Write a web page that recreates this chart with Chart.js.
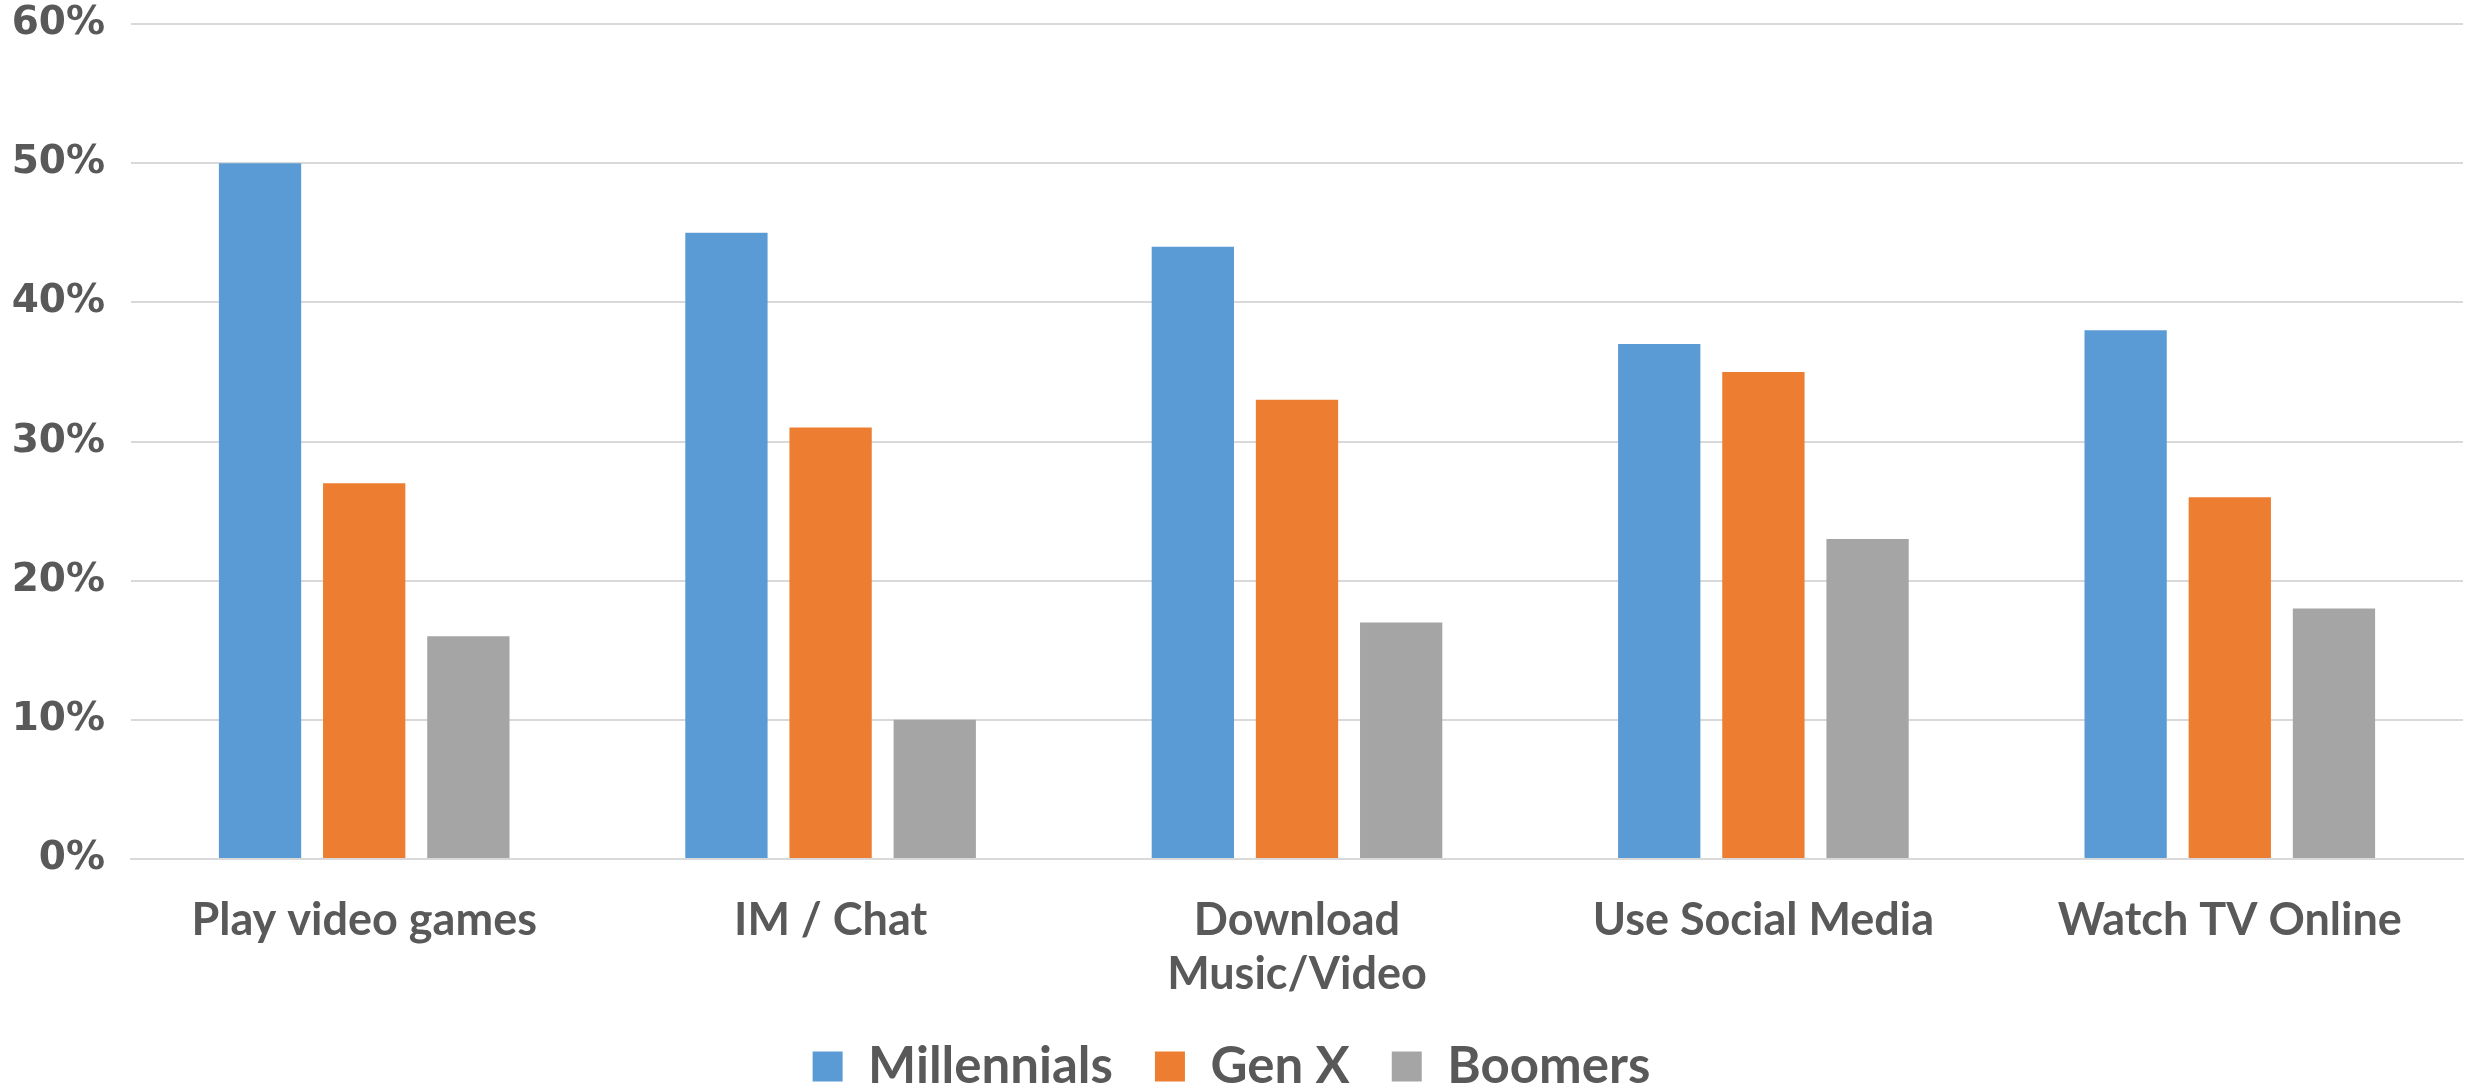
<!DOCTYPE html>
<html>
<head>
<meta charset="utf-8">
<script src="https://cdn.jsdelivr.net/npm/chart.js@4/dist/chart.umd.min.js"></script>
<style>
html,body{margin:0;padding:0;background:#fff;}
#wrap{width:2468px;height:1088px;position:relative;}
</style>
</head>
<body>
<div id="wrap"><canvas id="c" width="2468" height="1088"></canvas></div>
<script>
const categories = ['Play video games', 'IM / Chat', ['Download', 'Music/Video'], 'Use Social Media', 'Watch TV Online'];
const millennials = [50, 45, 44, 37, 38];
const genX = [27, 31, 33, 35, 26];
const boomers = [16, 10, 17, 23, 18];
const yTicks = [0, 10, 20, 30, 40, 50, 60];

const textColor = '#595959';
const gridColor = '#d9d9d9';

new Chart(document.getElementById('c'), {
  type: 'bar',
  data: {
    labels: categories,
    datasets: [
      { label: 'Millennials', data: millennials, backgroundColor: '#5b9bd5' },
      { label: 'Gen X', data: genX, backgroundColor: '#ed7d31' },
      { label: 'Boomers', data: boomers, backgroundColor: '#a5a5a5' }
    ]
  },
  options: {
    responsive: false,
    animation: false,
    devicePixelRatio: 1,
    layout: { padding: { left: 0, right: 5, top: 24, bottom: -14 } },
    datasets: { bar: { categoryPercentage: 0.67, barPercentage: 0.79 } },
    plugins: {
      tooltip: { enabled: false },
      legend: {
        position: 'bottom',
        labels: {
          color: textColor,
          font: { family: 'Lato', weight: 'bold', size: 51 },
          boxWidth: 30,
          boxHeight: 30,
          padding: 42
        }
      }
    },
    scales: {
      x: {
        afterFit: (s) => { s.height = 140; },
        grid: { display: false, drawTicks: false },
        border: { display: true, color: gridColor, width: 2 },
        ticks: {
          color: textColor,
          font: { family: 'Lato', weight: 'bold', size: 45 },
          padding: 34,
          maxRotation: 0,
          autoSkip: false
        }
      },
      y: {
        min: 0,
        max: 60,
        afterBuildTicks: (s) => { s.ticks = yTicks.map(v => ({ value: v })); },
        afterFit: (s) => { s.width = 131; s.paddingTop = 0; },
        grid: { color: gridColor, lineWidth: 2, drawTicks: false },
        border: { display: false },
        ticks: {
          color: textColor,
          font: { family: 'DejaVu Sans', weight: 'bold', size: 39 },
          padding: 26,
          callback: (v) => v + '%'
        }
      }
    }
  }
});
</script>
</body>
</html>
